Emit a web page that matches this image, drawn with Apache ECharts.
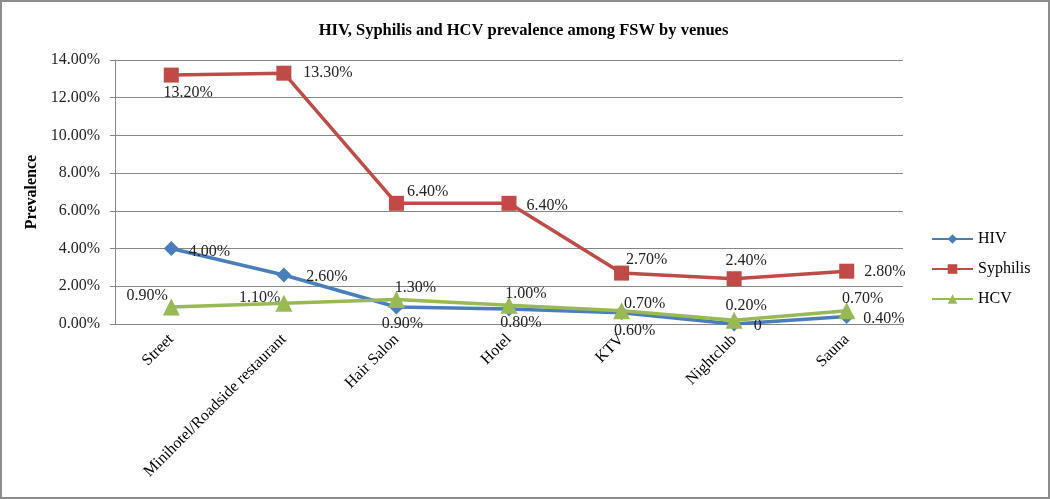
<!DOCTYPE html>
<html><head><meta charset="utf-8">
<script src="https://cdn.jsdelivr.net/npm/echarts@6/dist/echarts.min.js"></script>
<style>
html,body{margin:0;padding:0;background:#fff;}
#c{width:1050px;height:499px;box-sizing:border-box;border:2px solid #8c8c8c;}
</style></head><body>
<div id="c"></div>
<script>
const categories = ['Street','Minihotel/Roadside restaurant','Hair Salon','Hotel','KTV','Nightclub','Sauna'];
const hiv = [4.0, 2.6, 0.9, 0.8, 0.6, 0, 0.4];
const syphilis = [13.2, 13.3, 6.4, 6.4, 2.7, 2.4, 2.8];
const hcv = [0.9, 1.1, 1.3, 1.0, 0.7, 0.2, 0.7];
const yTicks = [0, 2, 4, 6, 8, 10, 12, 14];

// label placement (style only)
const hivPos = [['right',[5,3]],['right',[10,2]],['bottom',[6,-4]],['bottom',[12,-7]],['bottom',[13,-2]],['right',[7,2]],['right',[4,2]]];
const syPos = [['bottom',[17,-3]],['right',[7,0]],['right',[-2,-12]],['right',[5,2]],['top',[25,7]],['top',[12,3]],['right',[5,1]]];
const hcvPos = [['left',[10,-11]],['left',[10,-5]],['top',[19,10]],['top',[17,10]],['right',[-11,-7]],['top',[12,7]],['top',[16,9]]];

const fmt = v => v === 0 ? '0' : v.toFixed(2) + '%';
function build(vals, pos){
  return vals.map((v,i)=>({value:v,label:{position:pos[i][0],offset:pos[i][1]}}));
}
const font = 'Liberation Serif';
const lbl = {show:true,color:'#222',fontFamily:font,fontSize:16,formatter:p=>fmt(p.value)};

const chart = echarts.init(document.getElementById('c'));
chart.setOption({
  animation:false,
  title:{text:'HIV, Syphilis and HCV prevalence among FSW by venues',left:521.5,textAlign:'center',top:20,padding:0,
    textStyle:{fontFamily:font,fontSize:16.5,fontWeight:'bold',color:'#000'}},
  grid:{left:113,right:145,top:58,bottom:173},
  legend:{orient:'vertical',left:929,top:229,padding:0,itemGap:14,itemWidth:41,itemHeight:12,
    textStyle:{fontFamily:font,fontSize:16,color:'#000'},
    data:['HIV','Syphilis','HCV']},
  xAxis:{type:'category',data:categories,boundaryGap:true,
    axisLine:{lineStyle:{color:'#868686'}},axisTick:{show:false},
    axisLabel:{rotate:45,fontFamily:font,fontSize:16,color:'#000',interval:0,margin:13}},
  yAxis:{type:'value',min:0,max:14,interval:2,name:'Prevalence',nameLocation:'middle',nameGap:70,
    nameTextStyle:{fontFamily:font,fontSize:16,fontWeight:'bold',color:'#000'},
    axisLine:{show:true,lineStyle:{color:'#868686'}},axisTick:{show:true,length:5,lineStyle:{color:'#868686'}},
    splitLine:{lineStyle:{color:'#868686'}},
    axisLabel:{fontFamily:font,fontSize:16,color:'#222',margin:15,formatter:v=>v.toFixed(2)+'%'}},
  series:[
    {name:'HIV',type:'line',data:build(hiv,hivPos),symbol:'diamond',symbolSize:15,
      lineStyle:{width:3.5,color:'#4a7ebb'},itemStyle:{color:'#4a7ebb'},label:lbl,z:3},
    {name:'Syphilis',type:'line',data:build(syphilis,syPos),symbol:'rect',symbolSize:15,
      lineStyle:{width:3.5,color:'#be4b48'},itemStyle:{color:'#be4b48'},label:lbl,z:2},
    {name:'HCV',type:'line',data:build(hcv,hcvPos),symbol:'triangle',symbolSize:17,
      lineStyle:{width:3.5,color:'#98b954'},itemStyle:{color:'#98b954'},label:lbl,z:4}
  ]
});
</script>
</body></html>
